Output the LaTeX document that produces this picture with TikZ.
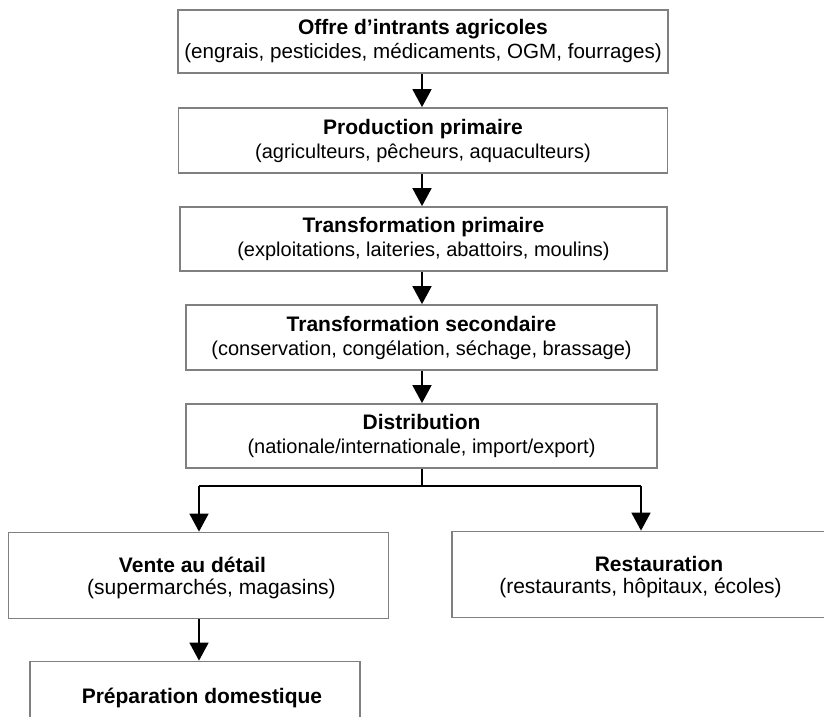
\documentclass[tikz,border=0pt]{standalone}
\usepackage{fontspec}
\setmainfont{Liberation Sans}
\usetikzlibrary{arrows.meta}
\definecolor{boxgray}{HTML}{808080}
\newcommand{\ttl}[1]{{\fontsize{21}{24}\selectfont\bfseries #1}}
\tikzset{
  stagebox/.style={draw=boxgray, line width=1.8pt, fill=white, rectangle, align=center,
    inner sep=0pt, font=\fontsize{20}{24}\selectfont},
  lowbox/.style={stagebox, font=\fontsize{21}{22}\selectfont, text depth=0pt},
  flowarrow/.style={draw=black, line width=1.7pt, -{Triangle[length=18pt,width=19pt]}},
  flowline/.style={draw=black, line width=1.7pt},
  titletext/.style={inner sep=0pt, font=\fontsize{21}{24}\selectfont\bfseries}
}
\begin{document}
\begin{tikzpicture}[x=1pt,y=-1pt]
\useasboundingbox (0,0) rectangle (824,716);
\clip (0,0) rectangle (824,716);
\fill[white] (0,0) rectangle (824,716);
% main column
\node[stagebox, minimum width=490pt, minimum height=63pt] (b1) at (423,41.5)
  {\ttl{Offre d’intrants agricoles}\\{\fontsize{20.6}{24}\selectfont(engrais, pesticides, médicaments, OGM, fourrages)}};
\node[stagebox, minimum width=489pt, minimum height=65pt] (b2) at (423,140.5)
  {\ttl{Production primaire}\\(agriculteurs, pêcheurs, aquaculteurs)};
\node[stagebox, minimum width=487pt, minimum height=64pt] (b3) at (423.5,239)
  {\ttl{Transformation primaire}\\(exploitations, laiteries, abattoirs, moulins)};
\node[stagebox, minimum width=471pt, minimum height=65pt] (b4) at (421.5,337.5)
  {\ttl{Transformation secondaire}\\(conservation, congélation, séchage, brassage)};
\node[stagebox, minimum width=471pt, minimum height=64pt] (b5) at (421.5,436)
  {\ttl{Distribution}\\(nationale/internationale, import/export)};
% bottom row
\node[lowbox, minimum width=380pt, minimum height=86pt] (vente) at (198.5,575.5)
  {\hspace*{-12pt}\ttl{Vente au détail}\\\hspace*{26pt}(supermarchés, magasins)};
\node[lowbox, minimum width=396pt, minimum height=86pt] (resto) at (650,574.5)
  {\hspace*{18pt}\ttl{Restauration}\\\hspace*{-19pt}(restaurants, hôpitaux, écoles)};
\node[stagebox, minimum width=330pt, minimum height=87pt] (prep) at (195,705) {};
\node[titletext] (preptxt) at (202,697.5) {Préparation domestique};
% connectors
\coordinate (c1) at (422,0);
\draw[flowarrow] (b1.south -| c1) -- (b2.north -| c1);
\draw[flowarrow] (b2.south -| c1) -- (b3.north -| c1);
\draw[flowarrow] (b3.south -| c1) -- (b4.north -| c1);
\draw[flowarrow] (b4.south -| c1) -- (b5.north -| c1);
\coordinate (split) at (422,486);
\coordinate (hl) at (199,486);
\coordinate (hr) at (641,486);
\draw[flowline] (b5.south -| split) -- (split);
\draw[flowline] (hl) -- (hr);
\draw[flowarrow] (hl) -- (hl |- vente.north);
\draw[flowarrow] (hr) -- (hr |- resto.north);
\draw[flowarrow] (vente.south -| hl) -- (prep.north -| hl);
\end{tikzpicture}
\end{document}
